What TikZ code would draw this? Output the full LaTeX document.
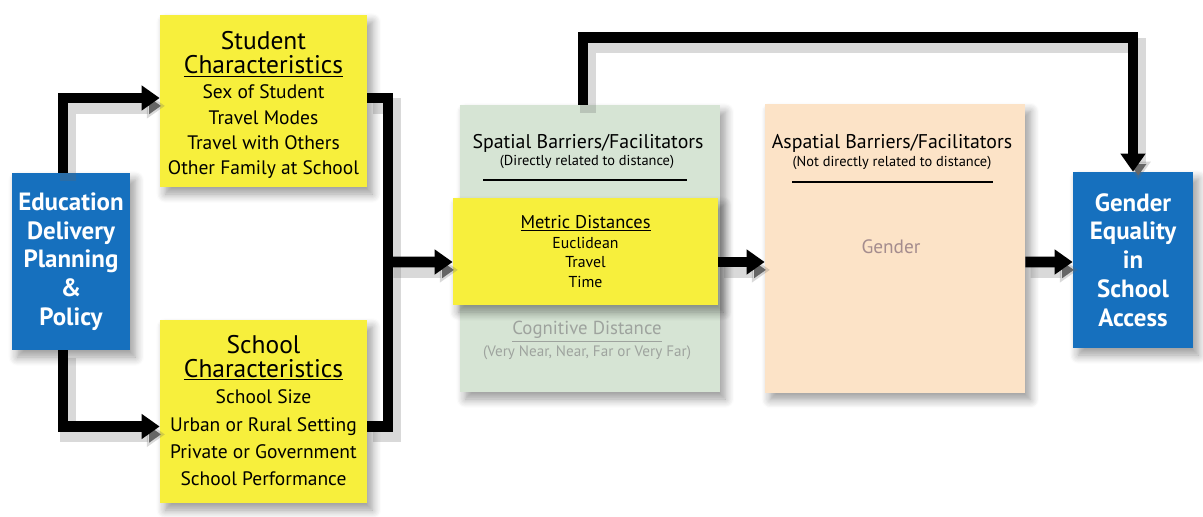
\documentclass[tikz,border=0pt]{standalone}
\usepackage{fontspec}
\setmainfont{PT Sans}
\usetikzlibrary{arrows.meta,calc,shadows.blur}
\definecolor{eblue}{HTML}{1670BE}
\definecolor{eyellow}{HTML}{F7EF3C}
\definecolor{egreen}{HTML}{D6E4D4}
\definecolor{epeach}{HTML}{FCE3C7}
\definecolor{egendertxt}{HTML}{A48C8E}
\definecolor{ecogtxt}{HTML}{9EA39E}
\newcommand\hdfont{\fontsize{14.5}{14.5}\selectfont}
\newcommand\mtfont{\fontsize{10.5}{11.3}\selectfont}
\tikzset{
  x=0.02cm, y=-0.02cm,
  boxshadow/.style={blur shadow={shadow xshift=3pt, shadow yshift=-4pt, shadow blur steps=8, shadow opacity=40, shadow blur radius=5pt}},
  bluebox/.style={fill=eblue, draw=none, text=white, font=\bfseries\fontsize{14.2}{16.4}\selectfont, align=center, inner sep=0pt, boxshadow},
  yelbox/.style={fill=eyellow, draw=none, text=black, align=center, inner sep=0pt, boxshadow},
  greenbox/.style={fill=egreen, draw=none, inner sep=0pt, boxshadow},
  peachbox/.style={fill=epeach, draw=none, inner sep=0pt, boxshadow},
  txt/.style={align=center, inner sep=0pt},
  conn/.style={line width=6.2pt, black, preaction={draw=black!60, draw opacity=.25, line width=9pt, transform canvas={shift={(3pt,-4.5pt)}}}},
  arr/.style={conn, -{Triangle[length=0.36cm,width=0.48cm]}},
  ttl/.style={font=\fontsize{11.3}{13}\selectfont, inner sep=0pt},
  sub/.style={font=\fontsize{8.2}{9.5}\selectfont, inner sep=0pt},
}
\begin{document}
\begin{tikzpicture}
\useasboundingbox (0,0) rectangle (1203,517);
% boxes
\node[bluebox, minimum width=118*0.02cm, minimum height=177*0.02cm] (edu) at (71,261.5)
  {Education\\Delivery\\Planning\\\&\\Policy};
\node[yelbox, minimum width=207*0.02cm, minimum height=172*0.02cm] (stu) at (263.5,101) {};
\node[txt, font=\fontsize{11.1}{14.45}\selectfont] (stut) at (263.5,105)
  {\hdfont Student\\[-0.6pt]\hdfont\underline{Characteristics}\\[-0.2pt]
   Sex of Student\\Travel Modes\\Travel with Others\\Other Family at School};
\node[yelbox, minimum width=207*0.02cm, minimum height=183*0.02cm] (sch) at (263.5,411.5) {};
\node[txt, font=\fontsize{11.1}{15.6}\selectfont] (scht) at (263.5,411)
  {\hdfont School\\[-2.5pt]\hdfont\underline{Characteristics}\\[-0.4pt]
   School Size\\Urban or Rural Setting\\Private or Government\\School Performance};
\node[greenbox, minimum width=260*0.02cm, minimum height=287*0.02cm] (spa) at (590,248.5) {};
\node[peachbox, minimum width=260*0.02cm, minimum height=288*0.02cm] (asp) at (895,248.5) {};
\node[yelbox, font=\fontsize{9}{11.3}\selectfont, minimum width=265*0.02cm, minimum height=107*0.02cm] (met) at (585.5,251.5)
  {\mtfont\underline{Metric Distances}\\Euclidean\\Travel\\Time};
\node[bluebox, minimum width=120*0.02cm, minimum height=176*0.02cm] (ge) at (1133,260)
  {Gender\\Equality\\in\\School\\Access};
% texts in green box
\node[ttl] (spat) at (588,143) {Spatial Barriers/Facilitators};
\node[sub] (spas) at (587,162) {(Directly related to distance)};
\coordinate (spl1) at (483,180);
\coordinate (spl2) at (687,180);
\draw[line width=0.9pt] (spl1) -- (spl2);
\node[ttl, font=\fontsize{10.7}{12}\selectfont, text=ecogtxt] (cog) at (587,332) {\underline{Cognitive Distance}};
\node[sub, font=\fontsize{8.6}{10}\selectfont, text=ecogtxt] (cogs) at (587,353) {(Very Near, Near, Far or Very Far)};
% texts in peach box
\node[ttl] (aspt) at (892,143) {Aspatial Barriers/Facilitators};
\node[sub] (asps) at (892,163) {(Not directly related to distance)};
\coordinate (apl1) at (792,182);
\coordinate (apl2) at (993,182);
\draw[line width=0.9pt] (apl1) -- (apl2);
\node[ttl, font=\fontsize{11}{13}\selectfont, text=egendertxt] (gen) at (891,247) {Gender};
% connectors
\coordinate (j) at (388,262);
\draw[arr] ($(edu.north)+(-8,0)$) |- ($(stu.west)+(0,-3)$);
\draw[arr] ($(edu.south)+(-8,0)$) |- ($(sch.west)+(0,15)$);
\draw[conn] ($(stu.east)+(0,-3)$) -| (j);
\draw[conn] ($(sch.east)+(0,15)$) -| (j);
\draw[arr] (j) -- ($(met.west)+(0,10.5)$);
\draw[arr] ($(met.east)+(0,10.5)$) -- ($(asp.west)+(0,13.5)$);
\draw[arr] ($(asp.east)+(0,13.5)$) -- ($(ge.west)+(0,2)$);
\draw[arr] ($(spa.north)+(-7,0)$) -- ++(0,-67) -| (ge.north);
\end{tikzpicture}
\end{document}
